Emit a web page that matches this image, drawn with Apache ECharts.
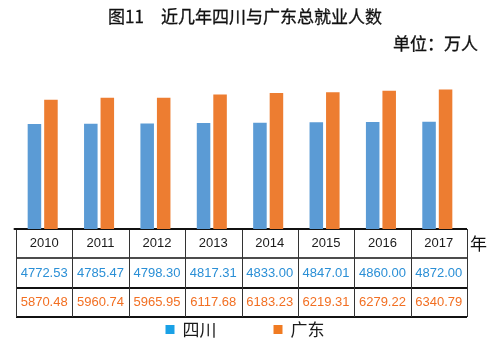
<!DOCTYPE html>
<html><head><meta charset="utf-8">
<script src="https://cdn.jsdelivr.net/npm/echarts@6/dist/echarts.min.js"></script>
<style>html,body{margin:0;padding:0;background:#fff}#c{width:490px;height:341px}</style>
</head><body><div id="c"></div>
<script>
const years = ['2010','2011','2012','2013','2014','2015','2016','2017'];
const sichuan = [4772.53, 4785.47, 4798.30, 4817.31, 4833.00, 4847.01, 4860.00, 4872.00];
const guangdong = [5870.48, 5960.74, 5965.95, 6117.68, 6183.23, 6219.31, 6279.22, 6340.79];
const seriesNames = ['四川', '广东'];

const chart = echarts.init(document.getElementById('c'), null, {renderer: 'canvas'});
const FONT = '"Noto Sans CJK SC", "Liberation Sans", sans-serif';
const NUMFONT = '"Liberation Sans", Arial, sans-serif';
const TL = 16, TR = 467, ROWS = [229, 258, 288, 317];
const textBlue = '#2a8fd6', textOrange = '#f26f22';

const option = {
  animation: false,
  backgroundColor: '#fff',
  title: {
    text: '图11\u3000近几年四川与广东总就业人数',
    left: 'center', top: 3,
    textStyle: {fontFamily: FONT, fontSize: 17, fontWeight: 'normal', color: '#111',
      textBorderColor: '#111', textBorderWidth: 0.3}
  },
  legend: {
    bottom: 3, left: 'center', padding: 0, itemWidth: 9, itemHeight: 9, itemGap: 57,
    icon: 'rect',
    textStyle: {fontFamily: FONT, fontSize: 17, color: '#1a1a1a', padding: [0, 0, 0, 3]},
    data: [
      {name: seriesNames[0], itemStyle: {color: '#1aa1e6'}},
      {name: seriesNames[1], itemStyle: {color: '#f07b22'}}
    ]
  },
  grid: {left: 14.5, right: 24.5, top: 75, bottom: 112},
  xAxis: {
    type: 'category', data: years,
    axisLine: {lineStyle: {color: '#111', width: 2}},
    axisTick: {show: false}, axisLabel: {show: false}
  },
  yAxis: {type: 'value', min: 0, max: 7000, show: false, splitLine: {show: false}},
  series: [
    {name: seriesNames[0], type: 'bar', data: sichuan, barWidth: '24%', barGap: '22%',
     itemStyle: {color: '#5b9bd5'}},
    {name: seriesNames[1], type: 'bar', data: guangdong, barWidth: '24%', barGap: '22%',
     itemStyle: {color: '#ed7d31'}}
  ]
};
chart.setOption(option);

// Data table under the chart
const g = [];
const colW = (TR - TL) / years.length;
const hw = [2, 1.5, 2, 2];
ROWS.forEach((y, i) => {
  g.push({type: 'line', shape: {x1: TL, y1: y, x2: TR, y2: y}, style: {stroke: '#111', lineWidth: hw[i]}});
});
for (let i = 0; i <= years.length; i++) {
  const x = Math.round(TL + i * colW) + 0.5;
  g.push({type: 'line', shape: {x1: x, y1: ROWS[0], x2: x, y2: ROWS[3]}, style: {stroke: '#333', lineWidth: 1}});
}
const rowsText = [
  {vals: years, color: '#1a1a1a'},
  {vals: sichuan.map(v => v.toFixed(2)), color: textBlue},
  {vals: guangdong.map(v => v.toFixed(2)), color: textOrange}
];
rowsText.forEach((r, ri) => {
  const cy = (ROWS[ri] + ROWS[ri + 1]) / 2;
  r.vals.forEach((t, ci) => {
    g.push({type: 'text', x: TL + (ci + 0.5) * colW, y: cy,
      style: {text: t, fill: r.color, font: '13px ' + NUMFONT, align: 'center', verticalAlign: 'middle'}});
  });
});
g.push({type: 'text', x: 478, y: 44, style: {text: '单位：万人', fill: '#111', font: '17px ' + FONT, align: 'right', verticalAlign: 'middle', stroke: '#111', lineWidth: 0.3}});
g.push({type: 'text', x: 470, y: 244, style: {text: '年', fill: '#111', font: '17px ' + FONT, align: 'left', verticalAlign: 'middle'}});
chart.setOption({graphic: g});
</script>
</body></html>
